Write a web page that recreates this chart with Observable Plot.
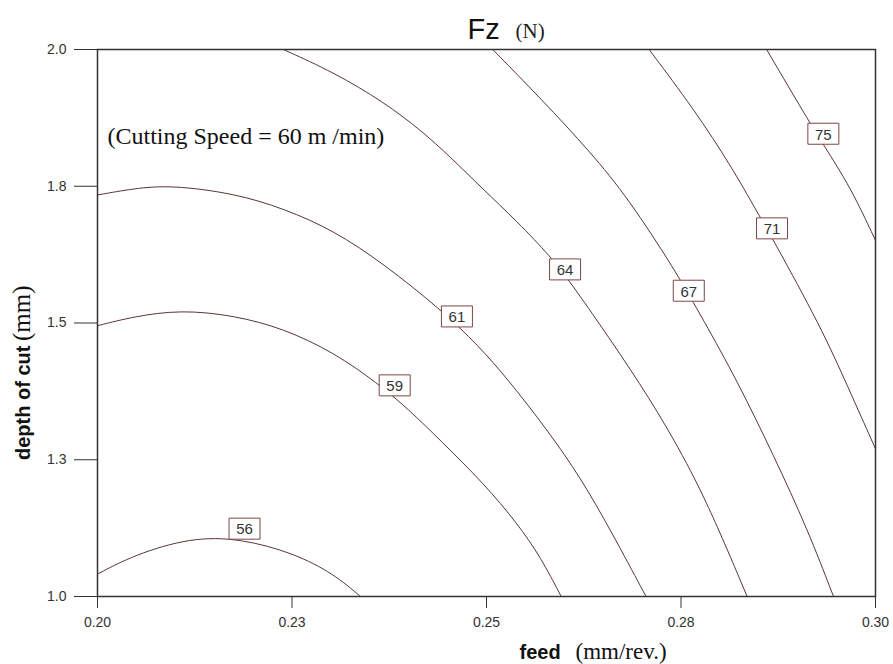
<!DOCTYPE html>
<html>
<head>
<meta charset="utf-8">
<script src="https://cdn.jsdelivr.net/npm/d3@7"></script>
<script src="https://cdn.jsdelivr.net/npm/@observablehq/plot@0.6"></script>
<style>
  html, body { margin: 0; padding: 0; background: #fff; }
</style>
</head>
<body>
<div id="chart"></div>
<script>
// Contour levels of the thrust force Fz (N), cutting speed 60 m/min
const levels = [56, 59, 61, 64, 67, 71, 75];

// Each contour as [feed (mm/rev.), depth of cut (mm)] points
const fz56 = [[0.2000,1.041],[0.2047,1.076],[0.2120,1.108],[0.2184,1.106],[0.2253,1.079],[0.2304,1.041],[0.2338,1.000]];
const fz59 = [[0.2000,1.495],[0.2047,1.512],[0.2107,1.524],[0.2175,1.514],[0.2239,1.490],[0.2304,1.446],[0.2360,1.390],[0.2400,1.342],[0.2441,1.285],[0.2497,1.206],[0.2540,1.133],[0.2570,1.071],[0.2596,1.000]];
const fz61 = [[0.2000,1.734],[0.2047,1.746],[0.2094,1.752],[0.2176,1.737],[0.2240,1.709],[0.2304,1.669],[0.2368,1.608],[0.2441,1.525],[0.2490,1.458],[0.2527,1.398],[0.2579,1.303],[0.2621,1.217],[0.2660,1.120],[0.2705,1.000]];
const fz64 = [[0.2239,2.000],[0.2304,1.958],[0.2368,1.904],[0.2416,1.852],[0.2454,1.803],[0.2493,1.748],[0.2540,1.685],[0.2583,1.620],[0.2604,1.582],[0.2647,1.495],[0.2698,1.388],[0.2741,1.288],[0.2784,1.172],[0.2835,1.000]];
const fz67 = [[0.2508,2.000],[0.2570,1.910],[0.2634,1.812],[0.2682,1.728],[0.2741,1.600],[0.2779,1.505],[0.2822,1.395],[0.2869,1.258],[0.2913,1.122],[0.2946,1.000]];
const fz71 = [[0.2709,2.000],[0.2767,1.890],[0.2814,1.788],[0.2849,1.700],[0.2869,1.651],[0.2930,1.492],[0.2964,1.385],[0.3000,1.270]];
const fz75 = [[0.2860,2.000],[0.2913,1.872],[0.2933,1.826],[0.2968,1.748],[0.3000,1.651]];
const contourPaths = [fz56, fz59, fz61, fz64, fz67, fz71, fz75];

// Where each level's value label sits
const labelFeed  = [0.2189, 0.2382, 0.2462, 0.2601, 0.2760, 0.2867, 0.2933];
const labelDepth = [1.124, 1.386, 1.512, 1.598, 1.559, 1.673, 1.846];

// Axis ticks and their printed labels
const xTicks = [0.20, 0.225, 0.25, 0.275, 0.30];
const xTickLabels = ["0.20", "0.23", "0.25", "0.28", "0.30"];
const yTicks = [1.0, 1.25, 1.5, 1.75, 2.0];
const yTickLabels = ["1.0", "1.3", "1.5", "1.8", "2.0"];

// Texts
const titleMain = "Fz";
const titleUnit = "(N)";
const noteText = "(Cutting Speed = 60 m /min)";
const xLabelName = "feed";
const xLabelUnit = "(mm/rev.)";
const yLabelName = "depth of cut";
const yLabelUnit = "(mm)";

const lines = levels.flatMap((level, i) =>
  contourPaths[i].map(([feed, depth]) => ({level, feed, depth})));
const labels = levels.map((level, i) => ({level, feed: labelFeed[i], depth: labelDepth[i]}));

const xFmt = new Map(xTicks.map((t, i) => [t, xTickLabels[i]]));
const yFmt = new Map(yTicks.map((t, i) => [t, yTickLabels[i]]));

// Rectangular box behind each contour value
const labelBox = {draw(context) { context.rect(-15.5, -10.5, 31, 21); }};

const sans = "Arial, 'Liberation Sans', Helvetica, sans-serif";
const serif = "'Liberation Serif', 'Times New Roman', Times, serif";

const chart = Plot.plot({
  width: 893,
  height: 664,
  marginLeft: 97,
  marginRight: 18,
  marginTop: 49,
  marginBottom: 68,
  style: {fontFamily: sans, fontSize: "14px", color: "#333", background: "#fff"},
  x: {domain: [0.2, 0.3], ticks: xTicks, tickFormat: d => xFmt.get(d) ?? d, tickSize: 12, tickPadding: 9, label: null},
  y: {domain: [1, 2], ticks: yTicks, tickFormat: d => yFmt.get(d) ?? d, tickSize: 23, tickPadding: 8, label: null},
  marks: [
    Plot.line(lines, {x: "feed", y: "depth", z: "level", stroke: "#5a3535", strokeWidth: 1, curve: "basis", clip: true}),
    Plot.dot(labels, {x: "feed", y: "depth", symbol: labelBox, r: 10, fill: "white", stroke: "#7d4646", strokeWidth: 1}),
    Plot.text(labels, {x: "feed", y: "depth", text: "level", fontSize: 15, fill: "#333", fontFamily: sans, dy: 1}),
    Plot.frame({stroke: "#333", strokeWidth: 1.5}),
    // title
    Plot.text([titleMain], {frameAnchor: "top", text: d => d, textAnchor: "start", lineAnchor: "bottom", dx: -19, dy: -11, fontSize: 29, fontFamily: sans, fill: "#111"}),
    Plot.text([titleUnit], {frameAnchor: "top", text: d => d, textAnchor: "start", lineAnchor: "bottom", dx: 29, dy: -12, fontSize: 21, fontFamily: serif, fill: "#222"}),
    // annotation
    Plot.text([noteText], {frameAnchor: "top-left", text: d => d, textAnchor: "start", lineAnchor: "bottom", dx: 10, dy: 94, fontSize: 24, fontFamily: serif, fill: "#111"}),
    // x axis title
    Plot.text([xLabelName], {frameAnchor: "bottom-left", text: d => d, textAnchor: "start", lineAnchor: "bottom", dx: 422, dy: 62, fontSize: 20, fontWeight: "bold", fontFamily: sans, fill: "#111"}),
    Plot.text([xLabelUnit], {frameAnchor: "bottom-left", text: d => d, textAnchor: "start", lineAnchor: "bottom", dx: 478, dy: 62, fontSize: 23, fontFamily: serif, fill: "#111"}),
    // y axis title
    Plot.text([yLabelName], {frameAnchor: "left", text: d => d, rotate: -90, textAnchor: "start", lineAnchor: "bottom", dx: -68, dy: 137, fontSize: 20, fontWeight: "bold", fontFamily: sans, fill: "#111"}),
    Plot.text([yLabelUnit], {frameAnchor: "left", text: d => d, rotate: -90, textAnchor: "start", lineAnchor: "bottom", dx: -68, dy: 18, fontSize: 25, fontFamily: serif, fill: "#111"})
  ]
});

document.getElementById("chart").append(chart);
</script>
</body>
</html>
